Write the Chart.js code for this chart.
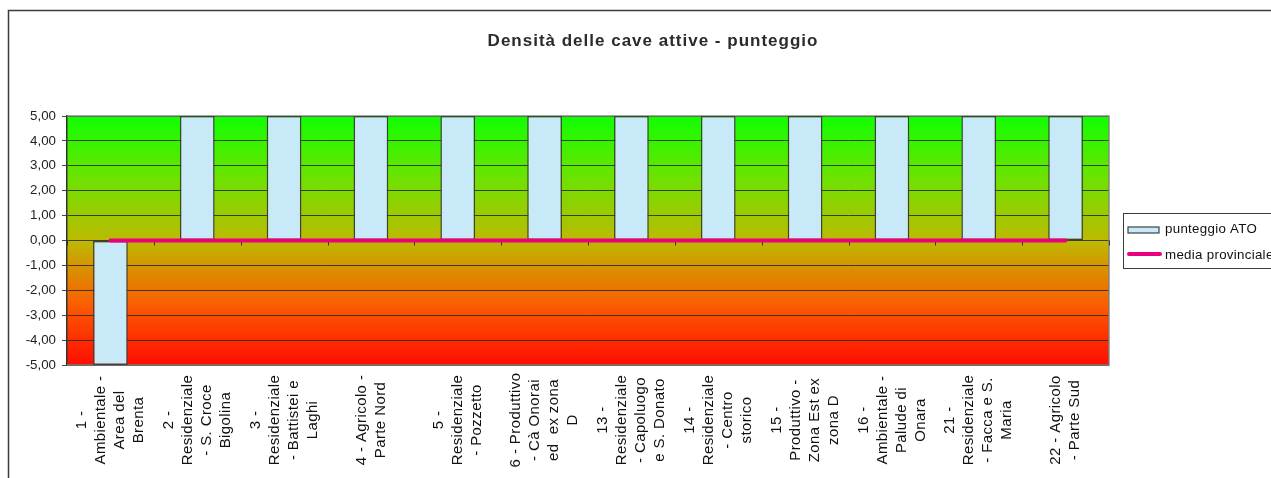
<!DOCTYPE html>
<html lang="it">
<head>
<meta charset="UTF-8">
<title>Densità delle cave attive - punteggio</title>
<script src="https://cdn.jsdelivr.net/npm/chart.js"></script>
<style>
  body { margin: 0; background: #fff; }
  canvas { display: block; }
</style>
</head>
<body>
<canvas id="chartCanvas" width="1271" height="478"></canvas>
<script>
// categories (one entry per ATO, already split in lines like in the original)
const categories = [
    ['1 -', 'Ambientale -', 'Area del', 'Brenta'],
    ['2 -', 'Residenziale', '- S. Croce', 'Bigolina'],
    ['3 -', 'Residenziale', '- Battistei e', 'Laghi'],
    ['4 - Agricolo -', 'Parte Nord'],
    ['5 -', 'Residenziale', '- Pozzetto'],
    ['6 - Produttivo', '- Cà Onorai', 'ed  ex zona', 'D'],
    ['13 -', 'Residenziale', '- Capoluogo', 'e S. Donato'],
    ['14 -', 'Residenziale', '- Centro', 'storico'],
    ['15 -', 'Produttivo -', 'Zona Est ex', 'zona D'],
    ['16 -', 'Ambientale -', 'Palude di', 'Onara'],
    ['21 -', 'Residenziale', '- Facca e S.', 'Maria'],
    ['22 - Agricolo', '- Parte Sud']
];
const punteggioATO = [-5, 5, 5, 5, 5, 5, 5, 5, 5, 5, 5, 5];
const mediaProvinciale = [0, 0, 0, 0, 0, 0, 0, 0, 0, 0, 0, 0];
const seriesNames = ['punteggio ATO', 'media provinciale'];
const chartTitle = 'Densità delle cave attive - punteggio';

const FONT = '"Liberation Sans", Arial, sans-serif';

// frame, gradient background, title, x labels and legend
const decorations = {
    id: 'decorations',
    beforeDraw(chart) {
        const ctx = chart.ctx;
        const a = chart.chartArea;
        ctx.save();
        ctx.fillStyle = '#fff';
        ctx.fillRect(0, 0, chart.width, chart.height);
        ctx.strokeStyle = '#3c3c3c';
        ctx.lineWidth = 1.5;
        ctx.strokeRect(8.5, 10.5, 1300, 500);

        const g = ctx.createLinearGradient(0, a.top, 0, a.bottom);
        g.addColorStop(0, 'rgb(16,255,0)');
        g.addColorStop(0.25, 'rgb(110,226,0)');
        g.addColorStop(0.5, 'rgb(188,186,0)');
        g.addColorStop(0.75, 'rgb(250,96,0)');
        g.addColorStop(1, 'rgb(255,12,0)');
        ctx.fillStyle = g;
        ctx.fillRect(a.left, a.top, a.right - a.left, a.bottom - a.top);

        ctx.fillStyle = '#2b2b2b';
        ctx.font = 'bold 17px ' + FONT;
        ctx.letterSpacing = '1px';
        ctx.textAlign = 'center';
        ctx.textBaseline = 'middle';
        ctx.fillText(chartTitle, 653, 41);
        ctx.restore();
    },
    beforeDatasetsDraw(chart) {
        const ctx = chart.ctx;
        const a = chart.chartArea;
        const x = chart.scales.x;
        const y0 = chart.scales.y.getPixelForValue(0);
        ctx.save();
        // plot area border (top, right, bottom)
        ctx.strokeStyle = 'rgba(128,128,128,0.9)';
        ctx.lineWidth = 1.5;
        ctx.beginPath();
        ctx.moveTo(a.left, a.top);
        ctx.lineTo(a.right, a.top);
        ctx.lineTo(a.right, a.bottom);
        ctx.lineTo(a.left, a.bottom);
        ctx.stroke();
        // category tick marks on the zero line
        ctx.strokeStyle = '#333';
        ctx.lineWidth = 1;
        ctx.beginPath();
        for (let i = 0; i <= categories.length; i++) {
            const px = Math.round(x.getPixelForValue(i - 0.5)) + 0.5;
            ctx.moveTo(px, y0);
            ctx.lineTo(px, y0 + 5);
        }
        ctx.stroke();
        ctx.restore();
    },
    afterDraw(chart) {
        const ctx = chart.ctx;
        const x = chart.scales.x;
        ctx.save();
        // rotated, centred category labels
        ctx.fillStyle = '#111';
        ctx.font = '15px ' + FONT;
        ctx.letterSpacing = '0.4px';
        ctx.textAlign = 'center';
        ctx.textBaseline = 'middle';
        const lineH = 19;
        categories.forEach((lines, i) => {
            const cx = x.getPixelForValue(i);
            lines.forEach((txt, j) => {
                const lx = cx + (j - (lines.length - 1) / 2) * lineH;
                ctx.save();
                ctx.translate(lx, 420);
                ctx.rotate(-Math.PI / 2);
                ctx.fillText(txt, 0, 0);
                ctx.restore();
            });
        });

        // legend
        const bar = chart.data.datasets[0];
        const line = chart.data.datasets[1];
        ctx.strokeStyle = '#3c3c3c';
        ctx.lineWidth = 1;
        ctx.strokeRect(1123.5, 213.5, 160, 55);
        ctx.fillStyle = bar.backgroundColor;
        ctx.fillRect(1128, 227, 31, 6);
        ctx.strokeStyle = bar.borderColor;
        ctx.lineWidth = 1.2;
        ctx.strokeRect(1128, 227, 31, 6);
        ctx.strokeStyle = line.borderColor;
        ctx.lineWidth = 4;
        ctx.lineCap = 'round';
        ctx.beginPath();
        ctx.moveTo(1129, 254);
        ctx.lineTo(1160, 254);
        ctx.stroke();
        ctx.fillStyle = '#111';
        ctx.font = '13.3px ' + FONT;
        ctx.letterSpacing = '0.3px';
        ctx.textAlign = 'left';
        ctx.textBaseline = 'middle';
        ctx.fillText(seriesNames[0], 1165, 229);
        ctx.fillText(seriesNames[1], 1165, 255);
        ctx.restore();
    }
};

new Chart(document.getElementById('chartCanvas').getContext('2d'), {
    type: 'bar',
    data: {
        labels: categories.map(c => c.join(' ')),
        datasets: [
            {
                label: seriesNames[0],
                data: punteggioATO,
                backgroundColor: 'rgb(200,233,248)',
                borderColor: '#404040',
                borderWidth: 1.5,
                borderSkipped: false,
                barPercentage: 0.4,
                categoryPercentage: 1,
                order: 1
            },
            {
                type: 'line',
                label: seriesNames[1],
                data: mediaProvinciale,
                borderColor: 'rgb(232,0,128)',
                borderWidth: 4,
                borderCapStyle: 'round',
                pointRadius: 0,
                fill: false,
                order: 0
            }
        ]
    },
    options: {
        responsive: false,
        animation: false,
        layout: {
            padding: { top: 116, right: 162, bottom: 113, left: 0 }
        },
        plugins: {
            legend: { display: false },
            title: { display: false },
            tooltip: { enabled: false }
        },
        scales: {
            x: {
                display: false,
                offset: true
            },
            y: {
                min: -5,
                max: 5,
                afterFit(scale) { scale.width = 67; },
                ticks: {
                    stepSize: 1,
                    padding: 6,
                    color: '#222',
                    font: { family: FONT, size: 13.3 },
                    callback: v => v.toFixed(2).replace('.', ',')
                },
                grid: {
                    color: 'rgba(40,40,40,0.85)',
                    lineWidth: 1,
                    tickLength: 5
                },
                border: { color: '#333', width: 1.5 }
            }
        }
    },
    plugins: [decorations]
});
</script>
</body>
</html>
